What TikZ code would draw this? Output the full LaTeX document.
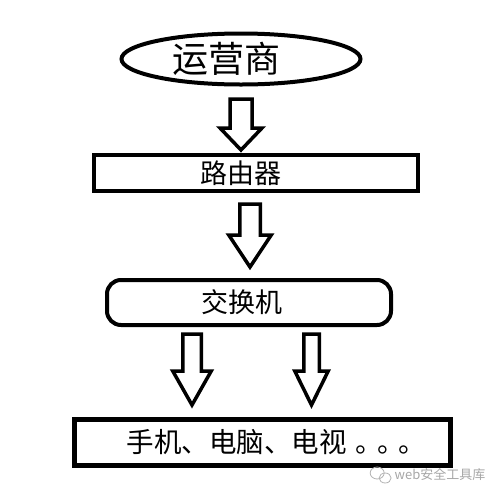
\documentclass[tikz,border=0pt]{standalone}
\usepackage{fontspec}
\setmainfont{Noto Sans CJK SC}
\usetikzlibrary{shapes.geometric, calc}
% hollow down arrow: top, length, half shaft, half head, head length
\newcommand{\fatarrow}[5]{%
  \draw[hollow] (#1) ++(-#3,0) -- ++(0,#2-#5) -- ++(#3-#4,0) -- ++(#4,#5)
    -- ++(#4,-#5) -- ++(#3-#4,0) -- ++(0,#5-#2) -- cycle;}

\begin{document}
\begin{tikzpicture}[x=1pt,y=-1pt,
    box/.style={draw,line width=4pt,inner sep=0pt},
    big/.style={font=\fontsize{27}{30}\selectfont},
    hollow/.style={draw,line width=3.5pt,line join=miter,fill=white}]
\useasboundingbox (0,0) rectangle (496,496);
\node[box,ellipse,minimum width=239pt,minimum height=51pt,
  label={[font=\fontsize{36}{40}\selectfont,xshift=-15pt]center:运营商}] (isp) at (241,59) {};
\node[box,minimum width=324pt,minimum height=36pt,
  label={[big,xshift=-15pt]center:路由器}] (router) at (256,173) {};
\node[box,rounded corners=14pt,minimum width=284pt,minimum height=45pt,
  label={[big,xshift=-7pt]center:交换机}] (switch) at (249,302.5) {};
\node[box,line width=5pt,minimum width=376pt,minimum height=46pt,
  label={[font=\fontsize{27.5}{30}\selectfont,xshift=14pt]center:手机、电脑、电视\hspace{9pt}。\kern-6pt。\kern-6pt。}] (devices) at (262.5,442.5) {};

\coordinate (a1) at (241,99);
\coordinate (a2) at (250,204);
\coordinate (a3) at (192,334);
\coordinate (a4) at (311.5,334);
\fatarrow{a1}{51}{11}{21}{22}
\fatarrow{a2}{63}{10.25}{21.25}{32}
\fatarrow{a3}{71}{9.25}{19.25}{34}
\fatarrow{a4}{71}{7.75}{16.75}{34}

% watermark
\node[text=gray!70,font=\fontsize{13}{15}\selectfont] (mark) at (440,475) {web安全工具库};
\draw[gray!60,line width=0.8pt] ($(mark.west)+(-14,-2)$) ellipse (7 and 6);
\draw[gray!60,line width=0.8pt] ($(mark.west)+(-6,3)$) ellipse (6 and 5);
\end{tikzpicture}
\end{document}
